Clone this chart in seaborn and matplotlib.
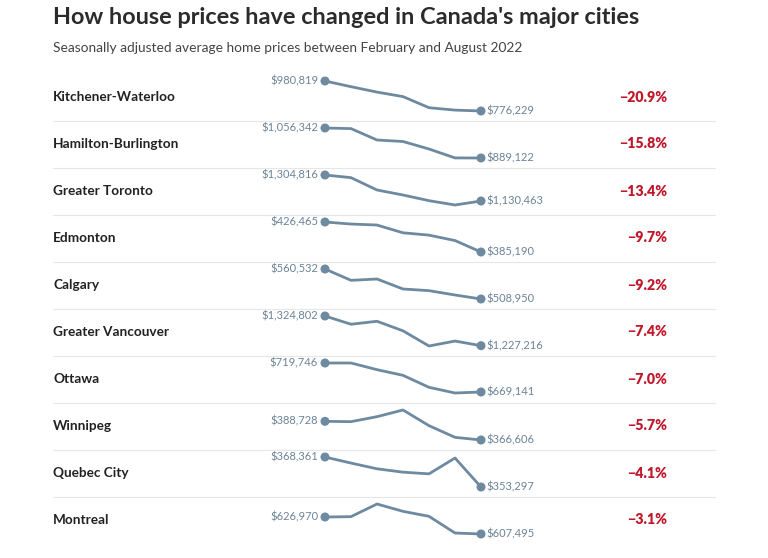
import matplotlib
matplotlib.use("Agg")
import matplotlib.pyplot as plt
import seaborn as sns
import pandas as pd
from matplotlib.lines import Line2D

cities = ["Kitchener-Waterloo", "Hamilton-Burlington", "Greater Toronto", "Edmonton",
          "Calgary", "Greater Vancouver", "Ottawa", "Winnipeg", "Quebec City", "Montreal"]
months = ["Feb", "Mar", "Apr", "May", "Jun", "Jul", "Aug"]
kitchener = [980819, 941946, 905121, 874432, 798734, 782365, 776229]
hamilton = [1056342, 1052998, 989454, 981093, 939288, 889600, 889122]
toronto = [1304816, 1286936, 1204241, 1170716, 1132721, 1103666, 1130463]
edmonton = [426465, 423682, 422291, 411623, 408377, 400956, 385190]
calgary = [560532, 541050, 543342, 526152, 523287, 515838, 508950]
vancouver = [1324802, 1297702, 1307458, 1276022, 1226158, 1242418, 1227216]
ottawa = [719746, 719746, 708112, 698223, 677282, 667393, 669141]
winnipeg = [388728, 388333, 394258, 402158, 383593, 369768, 366606]
quebec = [368361, 365314, 362436, 360743, 359896, 367853, 353297]
montreal = [626970, 627352, 641863, 633462, 627734, 608639, 607495]
series = [kitchener, hamilton, toronto, edmonton, calgary, vancouver, ottawa,
          winnipeg, quebec, montreal]
changes = ["\u221220.9%", "\u221215.8%", "\u221213.4%", "\u22129.7%", "\u22129.2%",
           "\u22127.4%", "\u22127.0%", "\u22125.7%", "\u22124.1%", "\u22123.1%"]

title = "How house prices have changed in Canada's major cities"
subtitle = "Seasonally adjusted average home prices between February and August 2022"

sns.set_theme(style="white")
plt.rcParams["font.family"] = ["Lato", "DejaVu Sans"]

W, H = 768, 558
fig = plt.figure(figsize=(W / 100, H / 100), dpi=100)
fig.patch.set_facecolor("white")

def fx(px):
    return px / W

def fy(py):
    return 1 - py / H

LINE = "#6e8aa0"
LABEL = "#6b8397"
RED = "#c0182a"
DARK = "#222222"

fig.text(fx(53), fy(18), title, fontsize=16.9, fontweight="bold", color="#2b2b2b",
         va="center", ha="left")
fig.text(fx(53), fy(48), subtitle, fontsize=9.9, color="#444444",
         va="center", ha="left")

row_h = 47
first_c = 97
for i, (city, vals, chg) in enumerate(zip(cities, series, changes)):
    c = first_c + row_h * i
    top, bot = c - 16, c + 14
    ax = fig.add_axes([fx(325), fy(bot), fx(481) - fx(325), (bot - top) / H])
    df = pd.DataFrame({"month": range(len(months)), "price": vals})
    sns.lineplot(data=df, x="month", y="price", ax=ax, color=LINE, linewidth=2.0)
    ends = df.iloc[[0, -1]]
    sns.scatterplot(data=ends, x="month", y="price", ax=ax, color=LINE, s=42,
                    edgecolor="none", zorder=3)
    for art in list(ax.lines) + list(ax.collections):
        art.set_clip_on(False)
    ax.set_xlim(0, len(months) - 1)
    ax.set_ylim(min(vals), max(vals))
    ax.axis("off")
    ax.annotate(f"${vals[0]:,}", (0, vals[0]), xytext=(-5, 0), textcoords="offset points",
                ha="right", va="center", fontsize=8, color=LABEL, annotation_clip=False)
    ax.annotate(f"${vals[-1]:,}", (len(months) - 1, vals[-1]), xytext=(4, 0),
                textcoords="offset points", ha="left", va="center", fontsize=8,
                color=LABEL, annotation_clip=False)
    fig.text(fx(53), fy(c), city, fontsize=9.8, fontweight="bold", color=DARK,
             va="center", ha="left")
    fig.text(fx(667), fy(c), chg, fontsize=10.2, fontweight="heavy", color=RED,
             va="center", ha="right")
    if i < len(cities) - 1:
        sep = c + row_h / 2
        fig.add_artist(Line2D([fx(53), fx(715)], [fy(sep), fy(sep)], color="#e6e6e6",
                              linewidth=0.8, transform=fig.transFigure))

fig.savefig("out.png", dpi=100, facecolor="white")
